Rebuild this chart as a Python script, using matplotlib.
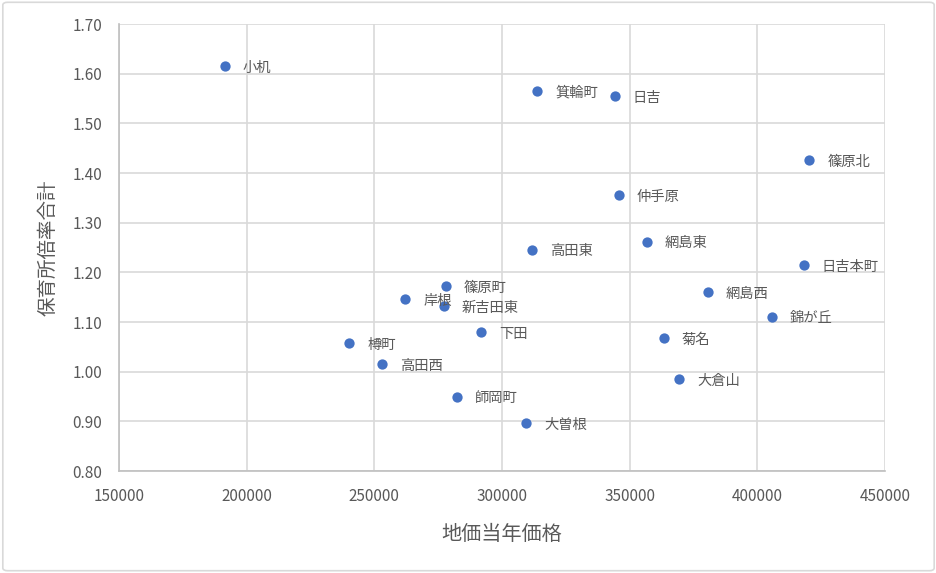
import matplotlib.pyplot as plt
from matplotlib.patches import FancyBboxPatch

plt.rcParams['font.family'] = ['Noto Sans CJK JP', 'DejaVu Sans']

names = ['小机', '箕輪町', '日吉', '篠原北', '仲手原', '網島東', '高田東', '日吉本町',
         '篠原町', '岸根', '新吉田東', '網島西', '錦が丘', '下田', '樽町', '菊名',
         '高田西', '大倉山', '師岡町', '大曽根']
land_price = [191500, 313700, 344200, 420400, 345800, 356700, 311700, 418200,
              277900, 262100, 277300, 380500, 405700, 291700, 240100, 363300,
              252900, 369300, 282200, 309400]
ratio = [1.615, 1.565, 1.555, 1.426, 1.356, 1.262, 1.246, 1.215,
         1.172, 1.146, 1.132, 1.160, 1.111, 1.080, 1.057, 1.068,
         1.015, 0.985, 0.950, 0.897]

x_ticks = [150000, 200000, 250000, 300000, 350000, 400000, 450000]
y_ticks = [0.80, 0.90, 1.00, 1.10, 1.20, 1.30, 1.40, 1.50, 1.60, 1.70]

text_col = '#595959'
grid_col = '#D9D9D9'

fig = plt.figure(figsize=(9.37, 5.73), dpi=100)
ax = fig.add_axes([0.127, 0.178, 0.8175, 0.78])

ax.scatter(land_price, ratio, s=55, color='#4472C4', zorder=3, linewidths=0)
for n, x, y in zip(names, land_price, ratio):
    ax.annotate(n, (x, y), xytext=(13, -1.2), textcoords='offset points',
                va='center', ha='left', fontsize=10.3, color=text_col, zorder=4)

ax.set_xlim(150000, 450000)
ax.set_ylim(0.80, 1.70)
ax.set_xticks(x_ticks)
ax.set_xticklabels([str(v) for v in x_ticks])
ax.set_yticks(y_ticks)
ax.set_yticklabels(['%.2f' % v for v in y_ticks])
ax.grid(True, color=grid_col, linewidth=1.2)
ax.set_axisbelow(True)
for s in ['top', 'right']:
    ax.spines[s].set_visible(False)
for s in ['left', 'bottom']:
    ax.spines[s].set_color('#BFBFBF')
    ax.spines[s].set_linewidth(1.2)
ax.tick_params(length=0, labelsize=11, colors=text_col, pad=12)

ax.set_xlabel('地価当年価格', fontsize=14.5, color=text_col, labelpad=14)
ax.set_ylabel('保育所倍率合計', fontsize=14, color=text_col, labelpad=10)

# chart border
fig.patches.append(FancyBboxPatch((0.003, 0.004), 0.994, 0.992,
                                  boxstyle='round,pad=0,rounding_size=0.005',
                                  transform=fig.transFigure, fill=False,
                                  edgecolor='#D9D9D9', linewidth=1.2))

fig.savefig('out.png', dpi=100)
